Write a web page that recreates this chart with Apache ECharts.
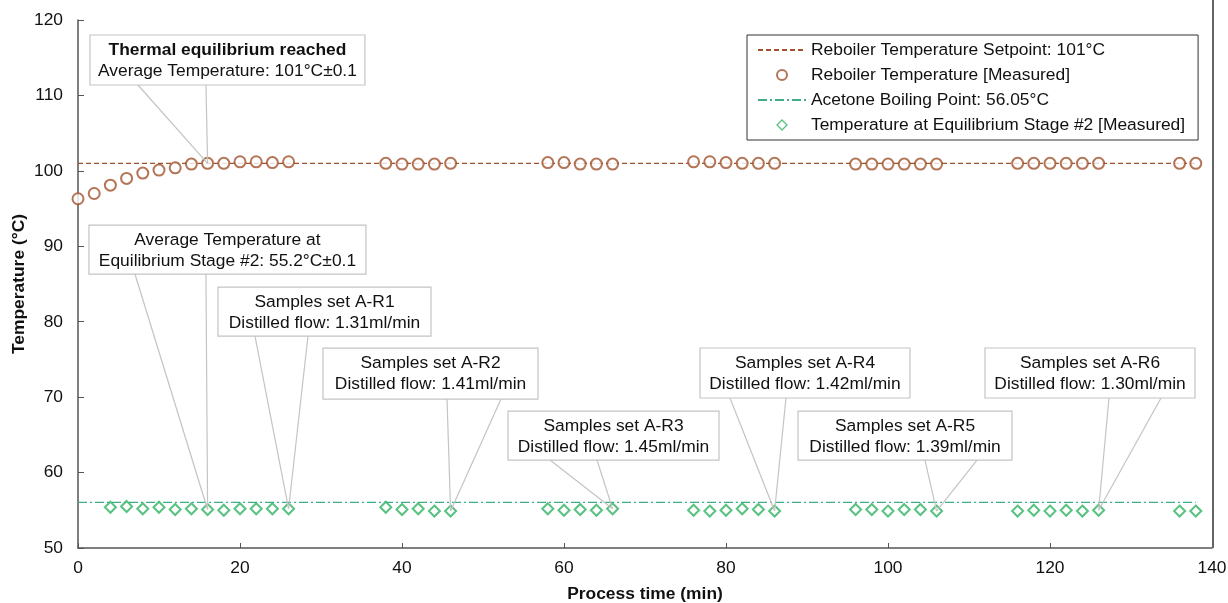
<!DOCTYPE html>
<html>
<head>
<meta charset="utf-8">
<script src="https://cdn.jsdelivr.net/npm/echarts@6/dist/echarts.min.js"></script>
<style>
html,body{margin:0;padding:0;background:#fff;}
#chart{width:1228px;height:603px;}
</style>
</head>
<body>
<div id="chart"></div>
<script>
// ---------------- DATA ----------------
const reboilerTime = [0,2,4,6,8,10,12,14,16,18,20,22,24,26,
  38,40,42,44,46, 58,60,62,64,66, 76,78,80,82,84,86,
  96,98,100,102,104,106, 116,118,120,122,124,126, 136,138];
const reboilerTemp = [96.3,97.0,98.1,99.0,99.7,100.1,100.4,100.9,101.0,101.0,101.2,101.2,101.1,101.2,
  101.0,100.9,100.9,100.9,101.0, 101.1,101.1,100.9,100.9,100.9, 101.2,101.2,101.1,101.0,101.0,101.0,
  100.9,100.9,100.9,100.9,100.9,100.9, 101.0,101.0,101.0,101.0,101.0,101.0, 101.0,101.0];
const stageTime = [4,6,8,10,12,14,16,18,20,22,24,26,
  38,40,42,44,46, 58,60,62,64,66, 76,78,80,82,84,86,
  96,98,100,102,104,106, 116,118,120,122,124,126, 136,138];
const stageTemp = [55.4,55.5,55.2,55.4,55.1,55.2,55.1,55.0,55.2,55.2,55.2,55.2,
  55.4,55.1,55.2,54.9,54.9, 55.2,55.0,55.1,55.0,55.2, 55.0,54.9,55.0,55.2,55.1,54.9,
  55.1,55.1,54.9,55.1,55.1,54.9, 54.9,55.0,54.9,55.0,54.9,55.0, 54.9,54.9];
const setpointTemp = 101;
const acetoneBoilingPoint = 56.05;
const refLineTimeRange = [0, 138];
const seriesNames = ['Reboiler Temperature Setpoint: 101°C','Reboiler Temperature [Measured]',
  'Acetone Boiling Point: 56.05°C','Temperature at Equilibrium Stage #2 [Measured]'];
// annotation texts and the measured point each one points to
const annotationTexts = [
  ['Thermal equilibrium reached','Average Temperature: 101°C±0.1'],
  ['Average Temperature at','Equilibrium Stage #2: 55.2°C±0.1'],
  ['Samples set A-R1','Distilled flow: 1.31ml/min'],
  ['Samples set A-R2','Distilled flow: 1.41ml/min'],
  ['Samples set A-R3','Distilled flow: 1.45ml/min'],
  ['Samples set A-R4','Distilled flow: 1.42ml/min'],
  ['Samples set A-R5','Distilled flow: 1.39ml/min'],
  ['Samples set A-R6','Distilled flow: 1.30ml/min']
];
const annotationTargets = [ // [series, time]
  ['reboiler',16],['stage',16],['stage',26],['stage',46],['stage',66],['stage',86],['stage',106],['stage',126]
];

// ---------------- LAYOUT (callout boxes: centre in data coords; size/offsets in px) ----------------
const boxLayout = [
  {cx:18.45, cy:114.7, w:275, h:50, legs:[48,116], bold:true},
  {cx:18.45, cy:89.57, w:277, h:49, legs:[46,117]},
  {cx:30.43, cy:81.35, w:213, h:49, legs:[37,90]},
  {cx:43.52, cy:73.13, w:215, h:51, legs:[124,178]},
  {cx:66.11, cy:64.91, w:211, h:49, legs:[42,89]},
  {cx:89.75, cy:73.2, w:210, h:50, legs:[30,86]},
  {cx:102.1, cy:64.91, w:214, h:49, legs:[127,179]},
  {cx:124.94, cy:73.2, w:210, h:50, legs:[124,176]}
];

const RED = '#A0522D';
const GREEN = '#2EB362';
const TEAL = '#3FAE88';
const FONT = '"Liberation Sans", Arial, sans-serif';
const FS = 17.4;

const chart = echarts.init(document.getElementById('chart'), null, {renderer:'canvas'});

const hiddenSym = {color:'rgba(0,0,0,0)', borderColor:'rgba(0,0,0,0)', borderWidth:0};
const option = {
  animation:false,
  backgroundColor:'#fff',
  textStyle:{fontFamily:FONT},
  grid:{left:78, right:16, top:20, bottom:55, containLabel:false, outerBoundsMode:'none'},
  legend:{
    orient:'vertical', left:747, top:35,
    padding:[5,13,5,10],
    itemWidth:48, itemHeight:10, itemGap:5,
    symbolKeepAspect:true,
    borderColor:'#333', borderWidth:1, backgroundColor:'#fff',
    textStyle:{fontSize:FS, color:'#111', fontFamily:FONT, padding:[0,0,0,0], lineHeight:20},
    data:[
      {name:seriesNames[0], itemStyle:hiddenSym},
      {name:seriesNames[1], icon:'emptyCircle'},
      {name:seriesNames[2], itemStyle:hiddenSym},
      {name:seriesNames[3], icon:'path://M5,0L10,5L5,10L0,5Z',
        itemStyle:{color:'#fff', borderColor:GREEN, borderWidth:1.3}}
    ]
  },
  xAxis:{
    type:'value', min:0, max:140, interval:20,
    name:'Process time (min)', nameLocation:'middle', nameGap:38,
    nameTextStyle:{fontSize:FS, fontWeight:'bold', color:'#111', fontFamily:FONT},
    axisLine:{show:true, onZero:false, lineStyle:{color:'#555', width:1.5}},
    axisTick:{show:true, inside:true, length:5, lineStyle:{color:'#555'}},
    axisLabel:{fontSize:FS, color:'#111', margin:12, fontFamily:FONT},
    splitLine:{show:false}
  },
  yAxis:{
    type:'value', min:50, max:120, interval:10,
    name:'Temperature (°C)', nameLocation:'middle', nameGap:50, nameMoveOverlap:false,
    nameTextStyle:{fontSize:FS, fontWeight:'bold', color:'#111', fontFamily:FONT},
    axisLine:{show:true, lineStyle:{color:'#555', width:1.5}},
    axisTick:{show:true, inside:true, length:6, lineStyle:{color:'#555'}},
    axisLabel:{fontSize:FS, color:'#111', margin:15, fontFamily:FONT},
    splitLine:{show:false}
  },
  series:[
    {
      name:seriesNames[0], type:'line', symbol:'none', z:2,
      data:refLineTimeRange.map(t=>[t,setpointTemp]),
      lineStyle:{color:RED, width:1.2, type:[5,3]}, itemStyle:{color:RED}
    },
    {
      name:seriesNames[1], type:'scatter', symbol:'emptyCircle', symbolSize:11, z:4,
      data:reboilerTime.map((t,i)=>[t,reboilerTemp[i]]),
      itemStyle:{color:RED, borderColor:RED, borderWidth:1.2}
    },
    {
      name:seriesNames[2], type:'line', symbol:'none', z:2,
      data:refLineTimeRange.map(t=>[t,acetoneBoilingPoint]),
      lineStyle:{color:TEAL, width:1.2, type:[9,3,2,3]}, itemStyle:{color:TEAL}
    },
    {
      name:seriesNames[3], type:'scatter', symbol:'emptyDiamond', symbolSize:11, z:4,
      data:stageTime.map((t,i)=>[t,stageTemp[i]]),
      itemStyle:{color:GREEN, borderColor:GREEN, borderWidth:1.3}
    }
  ]
};
chart.setOption(option);

// ---------------- callouts ----------------
function targetValue(kind, t){
  if(kind==='reboiler') return reboilerTemp[reboilerTime.indexOf(t)];
  return stageTemp[stageTime.indexOf(t)];
}
const graphics = [];
annotationTexts.forEach((lines, i)=>{
  const b = boxLayout[i];
  const c = chart.convertToPixel({gridIndex:0},[b.cx,b.cy]);
  const left = c[0]-b.w/2, top = c[1]-b.h/2, bottom = top+b.h;
  const tg = annotationTargets[i];
  const p = chart.convertToPixel({gridIndex:0},[tg[1], targetValue(tg[0],tg[1])]);
  b.legs.forEach(off=>{
    graphics.push({type:'line', z:5, shape:{x1:left+off, y1:bottom, x2:p[0], y2:p[1]},
      style:{stroke:'#c4c4c4', lineWidth:1.2}});
  });
  graphics.push({type:'rect', z:6, shape:{x:left, y:top, width:b.w, height:b.h},
    style:{fill:'#fff', stroke:'#c4c4c4', lineWidth:1.2}});
  graphics.push({type:'text', z:7, x:c[0], y:top+15,
    style:{text:lines[0], fill:'#111', font:(b.bold?'bold ':'')+FS+'px '+FONT, align:'center', verticalAlign:'middle'}});
  graphics.push({type:'text', z:7, x:c[0], y:top+36,
    style:{text:lines[1], fill:'#111', font:FS+'px '+FONT, align:'center', verticalAlign:'middle'}});
});
// right frame edge
graphics.push({type:'line', z:1, shape:{x1:1213, y1:0, x2:1213, y2:548}, style:{stroke:'#666', lineWidth:2}});
chart.setOption({graphic:graphics});
</script>
</body>
</html>
